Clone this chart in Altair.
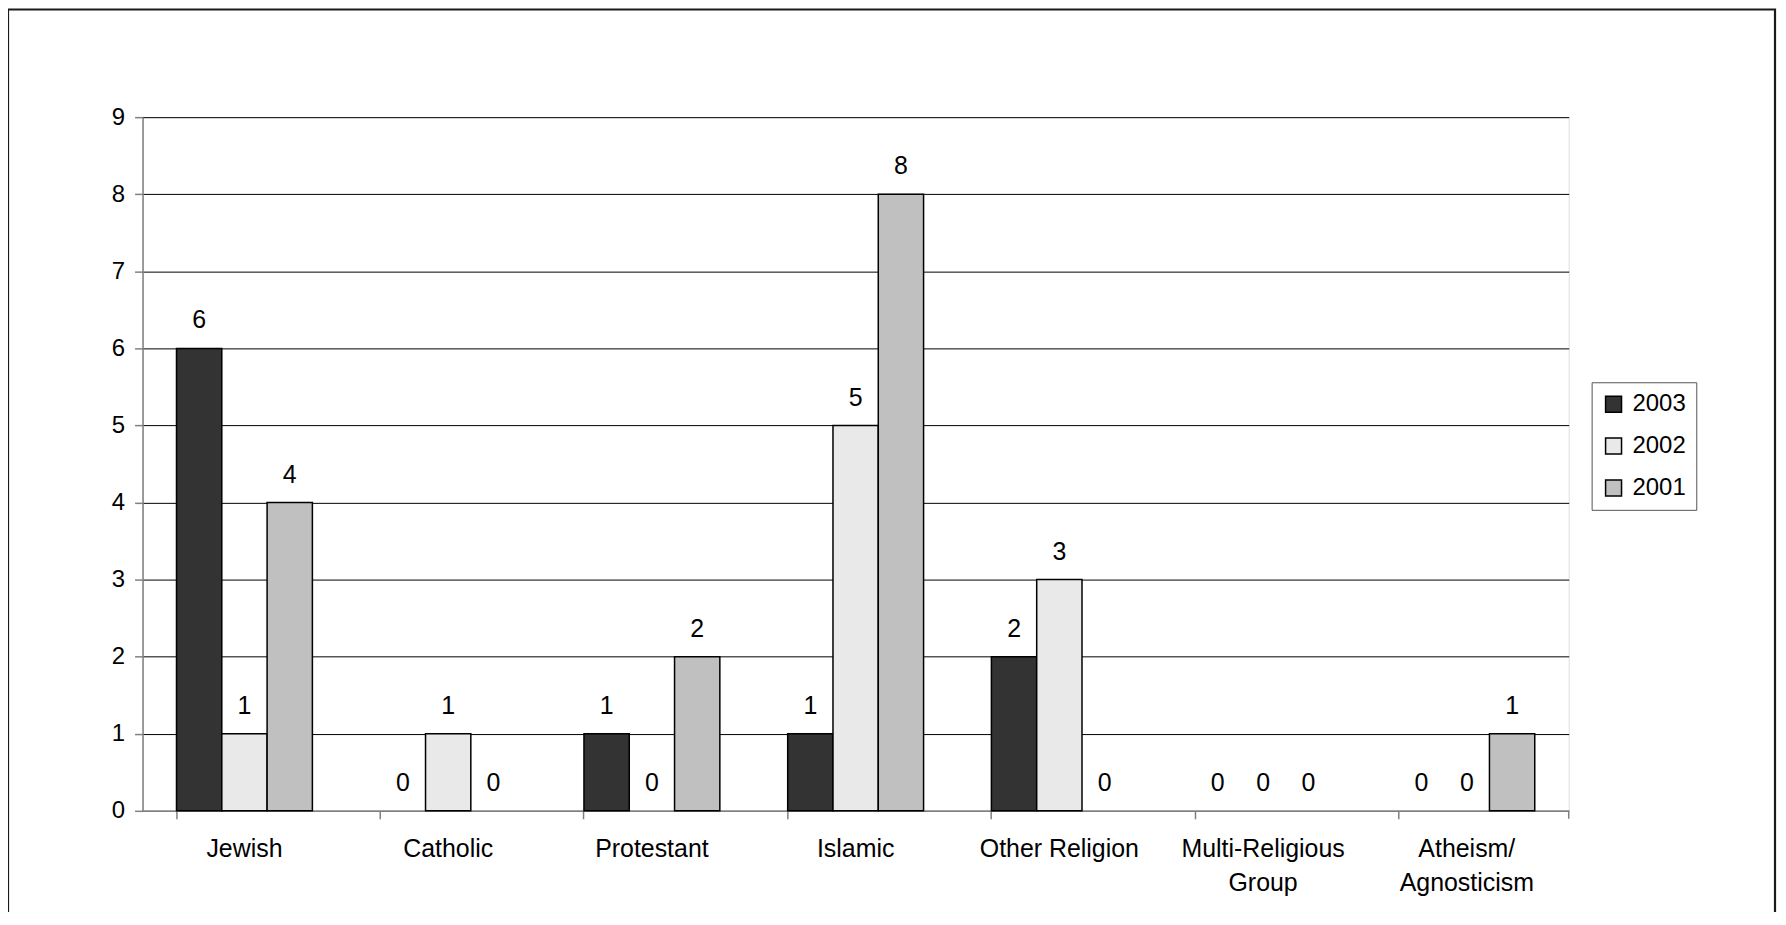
import altair as alt
import pandas as pd

categories = ["Jewish", "Catholic", "Protestant", "Islamic", "Other Religion",
              "Multi-Religious Group", "Atheism/Agnosticism"]
years = ["2003", "2002", "2001"]
values_2003 = [6, 0, 1, 1, 2, 0, 0]
values_2002 = [1, 1, 0, 5, 3, 0, 0]
values_2001 = [4, 0, 2, 8, 0, 0, 1]
colors = ["#333333", "#e9e9e9", "#c0c0c0"]

rows = []
for year, vals in zip(years, [values_2003, values_2002, values_2001]):
    for cat, v in zip(categories, vals):
        rows.append({"category": cat, "year": year, "value": v})
df = pd.DataFrame(rows)

W, H = 1431, 696
FONT = "Liberation Sans"

label_expr = ("datum.label == 'Multi-Religious Group' ? ['Multi-Religious', 'Group'] : "
              "datum.label == 'Atheism/Agnosticism' ? ['Atheism/', 'Agnosticism'] : datum.label")

x_enc = alt.X("category:N", sort=categories, title=None,
              scale=alt.Scale(paddingInner=0.333, paddingOuter=0.1667),
              axis=alt.Axis(labelAngle=0, labelFontSize=25, labelColor="black",
                            labelFont=FONT, labelPadding=18, labelLineHeight=34,
                            labelExpr=label_expr, bandPosition=0,
                            tickSize=8, tickColor="#808080", tickWidth=1.5,
                            domainColor="#808080", domainWidth=1.5, grid=False))
xoff = alt.XOffset("year:N", sort=years)
y_enc = alt.Y("value:Q", title=None,
              scale=alt.Scale(domain=[0, 9], nice=False),
              axis=alt.Axis(values=list(range(10)), format="d", labelFontSize=24,
                            labelColor="black", labelFont=FONT, labelPadding=10, tickSize=8,
                            tickColor="#808080", tickWidth=1.5, domainColor="#808080",
                            domainWidth=1.5, grid=True, gridColor="black", gridWidth=1))

base = alt.Chart(df)

bars = base.mark_bar(stroke="black", strokeWidth=1.5).encode(
    x=x_enc,
    xOffset=xoff,
    y=y_enc,
    color=alt.Color("year:N", scale=alt.Scale(domain=years, range=colors),
                    legend=alt.Legend(title=None, orient="none", legendX=1454, legendY=266,
                                      symbolType="square", symbolSize=256,
                                      symbolStrokeColor="black", symbolStrokeWidth=1.5,
                                      labelFontSize=24, labelFont=FONT, labelColor="black",
                                      labelOffset=7, rowPadding=18, padding=10,
                                      strokeColor="#555555", fillColor="white")),
    strokeOpacity=alt.condition(alt.datum.value == 0, alt.value(0), alt.value(1)),
)

texts = base.mark_text(baseline="alphabetic", dy=-20, fontSize=25, font=FONT,
                       color="black").encode(
    x=alt.X("category:N", sort=categories),
    xOffset=xoff,
    y=alt.Y("value:Q"),
    text=alt.Text("value:Q"),
)

border = alt.Chart(alt.Data(values=[{}])).mark_rect(
    fill=None, stroke="#1a1a1a", strokeWidth=2.2
).encode(x=alt.value(-135), x2=alt.value(1638), y=alt.value(-108), y2=alt.value(850))

end_tick = alt.Chart(alt.Data(values=[{}])).mark_rule(
    stroke="#808080", strokeWidth=1.5
).encode(x=alt.value(W), y=alt.value(H), y2=alt.value(H + 8))

chart = alt.layer(bars, texts, border, end_tick).properties(
    width=W, height=H,
    autosize=alt.AutoSizeParams(type="none"),
    padding={"left": 135, "top": 108, "right": 210, "bottom": 100},
).configure_view(stroke=None).configure(font=FONT)

chart.save("out.html", embed_options={"renderer": "svg", "actions": False})
